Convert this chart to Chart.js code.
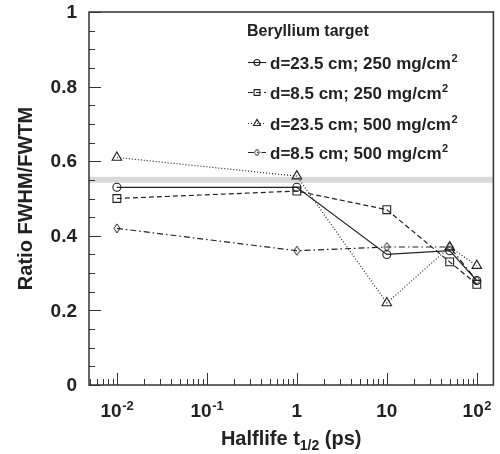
<!DOCTYPE html>
<html>
<head>
<meta charset="utf-8">
<script src="https://cdn.jsdelivr.net/npm/chart.js@4.4.0/dist/chart.umd.min.js"></script>
<style>
  html, body { margin: 0; padding: 0; background: #fff; }
</style>
</head>
<body>
<canvas id="chart" width="500" height="454"></canvas>
<script>
// Data
const halflife = [0.01, 1, 10, 50, 100];
const d235_250 = [0.53, 0.53, 0.35, 0.36, 0.28];
const d85_250 = [0.50, 0.52, 0.47, 0.33, 0.27];
const d235_500 = [0.61, 0.56, 0.22, 0.37, 0.32];
const d85_500 = [0.42, 0.36, 0.37, 0.37, 0.28];
const seriesLabels = ['d=23.5 cm; 250 mg/cm', 'd=8.5 cm; 250 mg/cm', 'd=23.5 cm; 500 mg/cm', 'd=8.5 cm; 500 mg/cm'];
const legendTitle = 'Beryllium target';
const bandX = [0.0049, 153];
const bandY = [0.55, 0.55];
const xTickValues = [0.01, 0.1, 1, 10, 100];
const xTickBase = ['10', '10', '1', '10', '10'];
const xTickExp = ['-2', '-1', '', '', '2'];
const yTickValues = [0, 0.2, 0.4, 0.6, 0.8, 1];
const yTickLabels = ['0', '0.2', '0.4', '0.6', '0.8', '1'];

const FONT = '"Liberation Sans", Arial, sans-serif';
const INK = '#222';

// narrow diamond marker
function diamondCanvas(w, h) {
  const c = document.createElement('canvas');
  c.width = w + 2; c.height = h + 2;
  const g = c.getContext('2d');
  g.strokeStyle = INK;
  g.lineWidth = 1;
  g.beginPath();
  g.moveTo(1 + w / 2, 1);
  g.lineTo(1 + w, 1 + h / 2);
  g.lineTo(1 + w / 2, 1 + h);
  g.lineTo(1, 1 + h / 2);
  g.closePath();
  g.stroke();
  return c;
}
const diamondBig = diamondCanvas(6, 9);
const diamondSmall = diamondCanvas(5, 7);

function pts(ys) {
  return halflife.map((x, i) => ({ x: x, y: ys[i] }));
}

const seriesStyle = [
  { pointStyle: 'circle', pointRadius: 4, dash: [] },
  { pointStyle: 'rect', pointRadius: 5.5, dash: [5, 3] },
  { pointStyle: 'triangle', pointRadius: 5.5, dash: [1, 2] },
  { pointStyle: diamondBig, pointRadius: 5, dash: [6, 3, 1.5, 3] }
];

const datasets = [d235_250, d85_250, d235_500, d85_500].map((ys, i) => ({
  label: seriesLabels[i],
  data: pts(ys),
  showLine: true,
  borderColor: INK,
  backgroundColor: 'rgba(0,0,0,0)',
  borderWidth: 1.2,
  borderDash: seriesStyle[i].dash,
  pointStyle: seriesStyle[i].pointStyle,
  pointRadius: seriesStyle[i].pointRadius,
  pointBorderColor: INK,
  pointBackgroundColor: 'rgba(0,0,0,0)',
  pointBorderWidth: 1.1,
  order: 1
}));

datasets.push({
  label: 'band',
  data: bandX.map((x, i) => ({ x: x, y: bandY[i] })),
  showLine: true,
  borderColor: '#d9d9d9',
  borderWidth: 6,
  pointRadius: 0,
  order: 10
});

function drawSup(ctx, base, sup, x, y, size, align) {
  ctx.font = 'bold ' + size + 'px ' + FONT;
  const wb = ctx.measureText(base).width;
  const ss = Math.round(size * 0.66);
  ctx.font = 'bold ' + ss + 'px ' + FONT;
  const ws = sup ? ctx.measureText(sup).width : 0;
  const total = wb + ws;
  let x0 = x;
  if (align === 'center') x0 = x - total / 2;
  else if (align === 'right') x0 = x - total;
  ctx.textAlign = 'left';
  ctx.textBaseline = 'alphabetic';
  ctx.font = 'bold ' + size + 'px ' + FONT;
  ctx.fillText(base, x0, y);
  if (sup) {
    ctx.font = 'bold ' + ss + 'px ' + FONT;
    ctx.fillText(sup, x0 + wb + 0.5, y - size * 0.38);
  }
}

const decor = {
  id: 'decor',
  afterDraw(chart) {
    const ctx = chart.ctx;
    const a = chart.chartArea;
    const xs = chart.scales.x, ys = chart.scales.y;
    ctx.save();
    ctx.strokeStyle = '#333';
    ctx.fillStyle = INK;

    // frame
    ctx.lineWidth = 1.5;
    ctx.strokeRect(a.left, a.top, a.right - a.left, a.bottom - a.top);

    // x ticks (major + minor, inside)
    ctx.lineWidth = 1;
    ctx.beginPath();
    for (let e = -3; e <= 2; e++) {
      for (let m = 1; m <= 9; m++) {
        const v = m * Math.pow(10, e);
        if (v < xs.min || v > xs.max) continue;
        const px = Math.round(xs.getPixelForValue(v)) + 0.5;
        const len = m === 1 ? 12 : 6;
        ctx.moveTo(px, a.bottom);
        ctx.lineTo(px, a.bottom - len);
      }
    }
    // y ticks every 0.05, major every 0.2
    for (let i = 0; i <= 20; i++) {
      const py = Math.round(ys.getPixelForValue(i * 0.05)) + 0.5;
      const len = i % 4 === 0 ? 12 : 6;
      ctx.moveTo(a.left, py);
      ctx.lineTo(a.left + len, py);
    }
    ctx.stroke();

    // tick labels
    xTickValues.forEach((v, i) => {
      drawSup(ctx, xTickBase[i], xTickExp[i], xs.getPixelForValue(v), 417, 19, 'center');
    });
    ctx.font = 'bold 19px ' + FONT;
    ctx.textAlign = 'right';
    ctx.textBaseline = 'middle';
    yTickValues.forEach((v, i) => {
      ctx.fillText(yTickLabels[i], 77, ys.getPixelForValue(v) + 1);
    });

    // axis titles
    ctx.font = 'bold 20px ' + FONT;
    const t1 = 'Halflife t', t2 = '1/2', t3 = ' (ps)';
    const w1 = ctx.measureText(t1).width, w3 = ctx.measureText(t3).width;
    ctx.font = 'bold 14px ' + FONT;
    const w2 = ctx.measureText(t2).width;
    let tx = (a.left + a.right) / 2 - (w1 + w2 + w3) / 2;
    ctx.textAlign = 'left';
    ctx.textBaseline = 'alphabetic';
    ctx.font = 'bold 20px ' + FONT;
    ctx.fillText(t1, tx, 445);
    ctx.font = 'bold 14px ' + FONT;
    ctx.fillText(t2, tx + w1, 450);
    ctx.font = 'bold 20px ' + FONT;
    ctx.fillText(t3, tx + w1 + w2, 445);

    ctx.save();
    ctx.translate(26, (a.top + a.bottom) / 2);
    ctx.rotate(-Math.PI / 2);
    ctx.textAlign = 'center';
    ctx.textBaseline = 'middle';
    ctx.font = 'bold 20px ' + FONT;
    ctx.fillText('Ratio FWHM/FWTM', 0, 0);
    ctx.restore();

    // legend
    ctx.font = 'bold 16px ' + FONT;
    ctx.textAlign = 'left';
    ctx.textBaseline = 'alphabetic';
    ctx.fillText(legendTitle, 247, 36);
    const rowY = [62, 92, 123, 152];
    chart.data.datasets.slice(0, 4).forEach((ds, i) => {
      const cy = rowY[i];
      ctx.save();
      ctx.strokeStyle = INK;
      ctx.lineWidth = 1.1;
      ctx.setLineDash(ds.borderDash);
      ctx.beginPath();
      ctx.moveTo(248, cy + 0.5);
      ctx.lineTo(266, cy + 0.5);
      ctx.stroke();
      ctx.setLineDash([]);
      if (ds.pointStyle === diamondBig) {
        ctx.drawImage(diamondSmall, 257 - diamondSmall.width / 2, cy - diamondSmall.height / 2 + 0.5);
      } else {
        ctx.fillStyle = 'rgba(0,0,0,0)';
        Chart.helpers.drawPoint(ctx, {
          pointStyle: ds.pointStyle,
          radius: ds.pointRadius * 0.75,
          borderWidth: 1,
          rotation: 0
        }, 257, cy + 0.5);
      }
      ctx.restore();
      drawSup(ctx, ds.label, '2', 270, cy + 6.5, 17, 'left');
    });

    ctx.restore();
  }
};

new Chart(document.getElementById('chart'), {
  type: 'scatter',
  data: { datasets: datasets },
  options: {
    responsive: false,
    animation: false,
    layout: { padding: { left: 89, right: 5, top: 12, bottom: 69 } },
    scales: {
      x: { type: 'logarithmic', min: bandX[0], max: bandX[1], display: false },
      y: { type: 'linear', min: 0, max: 1, display: false }
    },
    plugins: {
      legend: { display: false },
      tooltip: { enabled: false }
    }
  },
  plugins: [decor]
});
</script>
</body>
</html>
